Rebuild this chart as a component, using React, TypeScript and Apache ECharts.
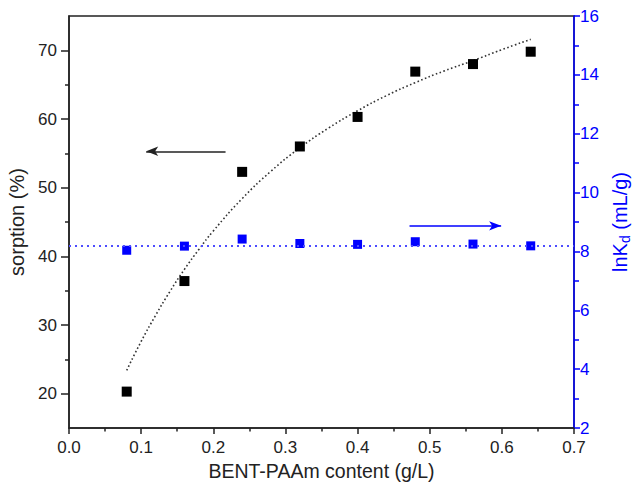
import React, { useEffect, useRef } from "react";
import * as echarts from "echarts";

const contentX = [0.08, 0.16, 0.24, 0.32, 0.40, 0.48, 0.56, 0.64];
const sorption = [20.3, 36.4, 52.3, 56.0, 60.3, 66.9, 68.0, 69.8];
const lnKd = [8.04, 8.18, 8.42, 8.27, 8.24, 8.33, 8.25, 8.19];

const fitX = [0.08, 0.10, 0.12, 0.14, 0.16, 0.18, 0.20, 0.24, 0.28, 0.32, 0.36, 0.40, 0.44, 0.48, 0.52, 0.56, 0.60, 0.64];
const fitY = [23.4, 27.6, 31.4, 34.9, 38.1, 41.0, 43.7, 48.4, 52.4, 55.8, 58.7, 61.2, 63.4, 65.3, 67.0, 68.5, 70.1, 71.6];

const lnKdMean = 8.19;

const leftMajor = [20, 30, 40, 50, 60, 70];
const leftMinor = [25, 35, 45, 55, 65];

const sorptionArrow = { x1: 0.217, x2: 0.107, y: 55.3 };
const lnKdArrow = { x1: 0.472, x2: 0.599, y: 8.87 };

const FONT = "'Liberation Sans', Arial, Helvetica, sans-serif";
const BLACK = "#222";
const BLUE = "#0000ff";

export default function App() {
  const ref = useRef<HTMLDivElement>(null);
  useEffect(() => {
    document.body.style.margin = "0";
    const chart = echarts.init(ref.current!, undefined, { renderer: "svg" });
    chart.setOption({
      animation: false,
      textStyle: { fontFamily: FONT },
      grid: {
        left: 69,
        right: 59,
        top: 16,
        bottom: 63,
        containLabel: false,
        outerBoundsMode: "none",
        show: true,
        borderColor: BLACK,
        borderWidth: 1.5,
      },
      xAxis: {
        type: "value",
        min: 0,
        max: 0.7,
        interval: 0.1,
        name: "BENT-PAAm content (g/L)",
        nameLocation: "middle",
        nameGap: 26,
        nameTextStyle: { fontSize: 19.5, color: BLACK, fontFamily: FONT },
        axisLine: { show: true, lineStyle: { color: BLACK, width: 1.5 } },
        axisTick: { show: true, length: 6, lineStyle: { color: BLACK, width: 1.5 } },
        minorTick: { show: true, splitNumber: 2, length: 3.5, lineStyle: { color: BLACK, width: 1.5 } },
        splitLine: { show: false },
        axisLabel: {
          fontSize: 17,
          color: BLACK,
          margin: 11,
          fontFamily: FONT,
          formatter: (v: number) => v.toFixed(1),
        },
      },
      yAxis: [
        {
          type: "value",
          position: "left",
          min: 15,
          max: 75,
          interval: 5,
          name: "sorption (%)",
          nameLocation: "middle",
          nameGap: 39,
          nameRotate: 90,
          nameTextStyle: { fontSize: 20, color: BLACK, fontFamily: FONT },
          axisLine: { show: true, lineStyle: { color: BLACK, width: 1.5 } },
          axisTick: { show: true, length: 8, customValues: leftMajor, lineStyle: { color: BLACK, width: 1.5 } },
          splitLine: { show: false },
          axisLabel: {
            fontSize: 17,
            color: BLACK,
            margin: 12,
            fontFamily: FONT,
            customValues: leftMajor,
          },
        },
        {
          type: "value",
          position: "right",
          min: 2,
          max: 16,
          interval: 2,
          name: "{n|lnK}{sub|d}{n| (mL/g)}",
          nameLocation: "middle",
          nameGap: 32,
          nameRotate: 90,
          nameTextStyle: {
            color: BLUE,
            fontFamily: FONT,
            fontSize: 20,
            rich: {
              n: { fontSize: 20, color: BLUE, fontFamily: FONT, lineHeight: 24, verticalAlign: "middle" },
              sub: { fontSize: 14, color: BLUE, fontFamily: FONT, lineHeight: 12, verticalAlign: "bottom" },
            },
          },
          axisLine: { show: true, lineStyle: { color: BLUE, width: 1.5 } },
          axisTick: { show: true, length: 6, lineStyle: { color: BLUE, width: 1.5 } },
          minorTick: { show: true, splitNumber: 2, length: 5, lineStyle: { color: BLUE, width: 1.5 } },
          splitLine: { show: false },
          axisLabel: { fontSize: 17, color: BLUE, margin: 6, fontFamily: FONT },
        },
        {
          type: "value",
          position: "left",
          min: 15,
          max: 75,
          interval: 5,
          axisLine: { show: false },
          axisTick: { show: true, length: 4, customValues: leftMinor, lineStyle: { color: BLACK, width: 1.5 } },
          axisLabel: { show: false },
          splitLine: { show: false },
        },
      ],
      series: [
        {
          type: "line",
          yAxisIndex: 0,
          data: fitX.map((x, i) => [x, fitY[i]]),
          smooth: true,
          showSymbol: false,
          silent: true,
          lineStyle: { color: "#333", width: 1.6, type: [1.6, 2.4] },
          z: 2,
        },
        {
          type: "scatter",
          yAxisIndex: 0,
          symbol: "rect",
          symbolSize: 10,
          itemStyle: { color: "#000", opacity: 1 },
          data: contentX.map((x, i) => [x, sorption[i]]),
          z: 4,
          markLine: {
            silent: true,
            animation: false,
            label: { show: false },
            lineStyle: { color: BLACK, width: 1.5, type: "solid" },
            symbolSize: [7, 12],
            data: [
              [
                { coord: [sorptionArrow.x1, sorptionArrow.y], symbol: "none" },
                { coord: [sorptionArrow.x2, sorptionArrow.y], symbol: "arrow" },
              ],
            ],
          },
        },
        {
          type: "scatter",
          yAxisIndex: 1,
          symbol: "rect",
          symbolSize: 9,
          itemStyle: { color: BLUE, opacity: 1 },
          data: contentX.map((x, i) => [x, lnKd[i]]),
          z: 4,
          markLine: {
            silent: true,
            animation: false,
            label: { show: false },
            symbolSize: [7, 12],
            data: [
              [
                { coord: [lnKdArrow.x1, lnKdArrow.y], symbol: "none", lineStyle: { color: BLUE, width: 1.5, type: "solid" } },
                { coord: [lnKdArrow.x2, lnKdArrow.y], symbol: "arrow" },
              ],
              [
                { coord: [0, lnKdMean], symbol: "none", lineStyle: { color: "#4d4dff", width: 2, type: [2, 4] } },
                { coord: [0.7, lnKdMean], symbol: "none" },
              ],
            ],
          },
        },
      ],
    });
    return () => chart.dispose();
  }, []);
  return <div ref={ref} style={{ width: 633, height: 491 }} />;
}
